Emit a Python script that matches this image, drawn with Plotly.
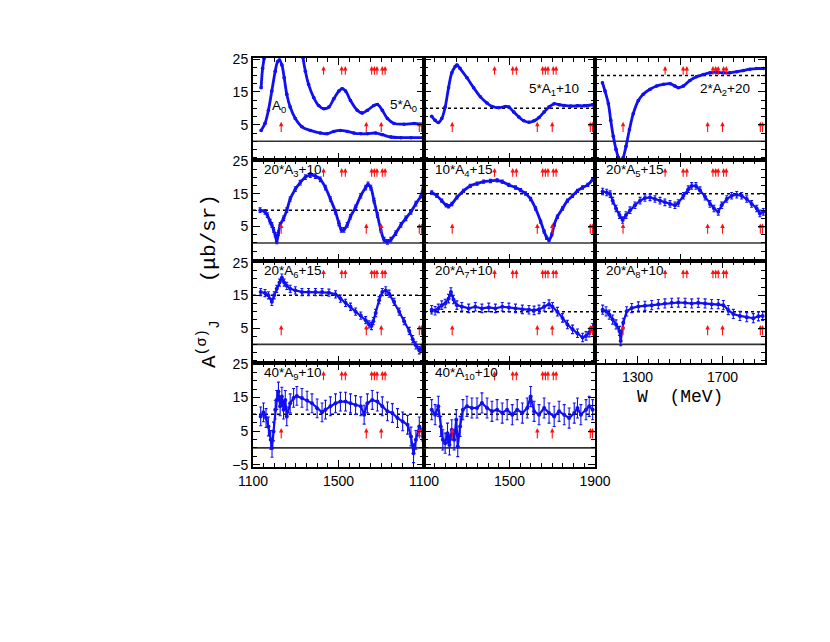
import plotly.graph_objects as go

# ---------------- data ----------------
W_A0 = [1138, 1156, 1172, 1188, 1204, 1215, 1224, 1235, 1246, 1258, 1274, 1298, 1329, 1368, 1415, 1447,
        1478, 1509, 1541, 1572, 1604, 1635, 1674, 1705, 1745, 1792, 1839, 1894]
V_A0 = [3.3, 5.4, 9.4, 15.3, 21.3, 24.2, 24.7, 23.2, 19.3, 14.3, 10.4, 6.9, 4.4, 3.3, 2.5, 2.3,
        3.0, 3.3, 3.0, 2.5, 2.3, 2.3, 2.5, 2.0, 1.3, 1.1, 1.1, 1.1]

W_5A0 = [1138, 1145, 1152, 1160, None, 1325, 1334, 1345, 1360, 1384, 1407, 1431, 1455, 1478, 1502, 1517, 1533,
         1556, 1588, 1611, 1635, 1666, 1682, 1705, 1729, 1760, 1807, 1854, 1886]
V_5A0 = [16.3, 22.2, 25.2, 32.0, None, 32.0, 25.4, 21.3, 17.3, 13.3, 10.9, 9.9, 10.4, 12.9, 15.3, 16.0, 15.3,
         12.4, 9.4, 8.6, 9.4, 10.9, 11.2, 9.4, 6.9, 5.4, 5.2, 5.4, 5.2]

W_A1 = [1136, 1152, 1167, 1183, 1199, 1215, 1230, 1246, 1254, 1269, 1301, 1332, 1364, 1395, 1418, 1450, 1481,
        1497, 1520, 1544, 1567, 1591, 1615, 1638, 1662, 1685, 1709, 1732, 1756, 1787, 1818, 1850, 1889]
V_A1 = [7.6, 6.4, 5.7, 6.9, 10.4, 16.3, 20.8, 22.7, 23.2, 22.1, 19.3, 16.3, 13.5, 11.6, 10.6, 10.2, 10.6,
        10.4, 8.9, 7.4, 6.2, 5.8, 6.2, 7.2, 8.9, 10.4, 11.4, 11.1, 10.9, 10.7, 10.8, 10.8, 11.1]

W_A2 = [1135, 1147, 1163, 1174, 1186, 1199, 1210, 1222, 1233, 1246, 1262, 1280, 1304, 1327, 1359, 1390, 1422,
        1453, 1476, 1492, 1516, 1547, 1578, 1610, 1641, 1673, 1704, 1735, 1767, 1798, 1829, 1861, 1892]
V_A2 = [17.8, 15.3, 11.4, 6.4, 1.5, -2.5, -4.9, -6.5, -4.9, -1.5, 3.5, 8.4, 12.4, 14.3, 15.8, 16.8, 17.3,
        17.5, 16.8, 16.3, 16.8, 18.5, 19.6, 20.3, 20.8, 21.0, 20.8, 20.8, 21.1, 21.5, 21.9, 22.1, 22.1]

W_A3 = [1133, 1156, 1167, 1180, 1188, 1196, 1204, 1211, 1219, 1227, 1243, 1258, 1274, 1298, 1321, 1345, 1368,
        1392, 1415, 1439, 1462, 1486, 1502, 1513, 1525, 1541, 1556, 1580, 1604, 1627, 1638, 1651, 1666, 1682,
        1698, 1713, 1729, 1745, 1768, 1792, 1815, 1839, 1862, 1886, 1898]
V_A3 = [10.0, 9.5, 8.5, 6.5, 5.5, 4.0, 2.5, 0.5, 3.0, 5.5, 7.5, 10.0, 13.4, 16.4, 18.4, 20.1, 20.7,
        20.4, 19.4, 16.9, 13.4, 9.5, 6.0, 4.0, 4.0, 5.5, 8.0, 10.9, 14.4, 16.9, 17.9, 16.9, 12.9, 8.5,
        4.0, 1.0, 0.3, 1.0, 3.0, 5.5, 7.5, 9.5, 12.0, 14.4, 17.9]

W_A4 = [1136, 1160, 1183, 1204, 1215, 1230, 1254, 1285, 1316, 1348, 1379, 1411, 1442, 1466, 1497, 1528, 1552,
        1575, 1599, 1622, 1646, 1662, 1674, 1685, 1698, 1709, 1724, 1748, 1771, 1795, 1818, 1842, 1866, 1889]
V_A4 = [15.4, 14.4, 12.9, 11.5, 11.2, 11.9, 13.9, 15.9, 17.4, 18.1, 18.7, 18.9, 19.1, 18.7, 17.7, 16.9, 16.1,
        15.1, 13.4, 10.5, 6.5, 3.5, 1.6, 0.9, 2.6, 5.5, 8.0, 10.5, 12.9, 14.4, 15.9, 16.9, 17.7, 19.4]

W_A5 = [1136, 1155, 1171, 1183, 1199, 1215, 1230, 1246, 1265, 1288, 1312, 1335, 1359, 1382, 1406, 1429, 1453,
        1476, 1492, 1516, 1539, 1555, 1575, 1594, 1618, 1641, 1660, 1680, 1696, 1720, 1743, 1767, 1790, 1814,
        1837, 1861, 1876, 1892]
V_A5 = [15.7, 15.4, 14.9, 12.9, 10.5, 8.5, 7.0, 8.5, 10.0, 11.5, 12.9, 13.7, 13.9, 13.4, 12.9, 12.4, 11.9,
        11.5, 12.2, 14.4, 16.4, 17.4, 17.4, 16.1, 14.1, 11.9, 10.5, 9.5, 11.5, 13.4, 14.4, 14.7, 14.4, 13.4,
        11.9, 10.5, 9.0, 9.5]

W_A6 = [1136, 1156, 1172, 1188, 1199, 1211, 1224, 1235, 1246, 1258, 1274, 1298, 1329, 1360, 1392, 1423, 1455,
        1486, 1509, 1533, 1556, 1580, 1604, 1627, 1643, 1654, 1663, 1674, 1690, 1705, 1721, 1737, 1760, 1784,
        1807, 1831, 1847, 1862, 1878, 1889, 1898]
V_A6 = [16.0, 15.7, 15.0, 13.0, 15.0, 17.0, 18.9, 20.4, 18.9, 17.9, 17.0, 16.5, 16.0, 16.0, 16.0, 16.0, 15.8,
        15.3, 14.0, 12.7, 11.5, 10.0, 8.8, 7.4, 6.1, 5.6, 7.1, 9.6, 13.5, 16.0, 16.5, 15.5, 13.0, 10.0,
        7.1, 4.1, 1.6, -0.3, -1.8, -1.3, 1.6]

W_A7 = [1136, 1152, 1167, 1183, 1199, 1215, 1226, 1238, 1254, 1277, 1309, 1340, 1371, 1403, 1434, 1466, 1497,
        1528, 1560, 1591, 1615, 1638, 1662, 1685, 1701, 1724, 1748, 1771, 1795, 1818, 1842, 1858, 1873, 1889]
V_A7 = [10.6, 10.3, 11.0, 12.0, 12.5, 14.0, 16.0, 13.7, 12.0, 11.5, 11.0, 11.5, 11.0, 11.3, 11.0, 11.5, 11.3,
        11.0, 10.7, 10.6, 10.4, 10.7, 11.5, 12.3, 11.5, 10.0, 8.1, 6.1, 4.6, 3.4, 2.1, 2.6, 3.6, 5.1]

W_A8 = [1136, 1152, 1167, 1183, 1199, 1215, 1221, 1233, 1249, 1273, 1304, 1335, 1367, 1398, 1429, 1461, 1492,
        1524, 1555, 1586, 1618, 1649, 1680, 1704, 1727, 1751, 1782, 1814, 1845, 1869, 1889]
V_A8 = [10.6, 10.1, 9.1, 7.6, 6.1, 4.1, 1.0, 6.6, 10.1, 11.1, 11.6, 11.8, 12.0, 12.3, 12.5, 12.7, 12.8,
        12.7, 12.5, 12.7, 12.5, 12.3, 12.3, 12.0, 10.5, 9.3, 8.7, 8.3, 8.0, 8.6, 8.7]

W_A9 = [1136, 1149, 1161, 1172, 1183, 1189, 1196, 1204, 1211, 1219, 1227, 1235, 1243, 1251, 1258, 1274, 1290,
        1305, 1329, 1353, 1376, 1400, 1423, 1439, 1462, 1486, 1509, 1533, 1556, 1580, 1604, 1620, 1635, 1658,
        1682, 1705, 1729, 1752, 1776, 1800, 1823, 1839, 1851, 1862, 1878, 1894]
V_A9 = [9.4, 10.6, 8.9, 6.4, 2.4, 0.0, 4.9, 11.4, 14.3, 16.8, 12.4, 15.3, 11.4, 14.3, 9.4, 13.3, 14.9,
        15.5, 14.9, 14.1, 13.3, 11.8, 10.6, 11.4, 12.4, 13.3, 13.8, 13.8, 13.3, 12.8, 12.4, 9.9, 13.3, 14.3,
        13.8, 12.4, 10.9, 10.4, 8.9, 7.9, 6.9, 3.4, -1.6, 2.4, 6.4, 4.9]

W_A10 = [1136, 1152, 1167, 1178, 1188, 1199, 1210, 1219, 1230, 1241, 1251, 1258, 1269, 1282, 1301, 1324, 1348,
         1371, 1395, 1418, 1442, 1466, 1489, 1513, 1536, 1560, 1583, 1599, 1615, 1638, 1662, 1685, 1709, 1732,
         1756, 1779, 1803, 1818, 1834, 1858, 1873, 1889]
V_A10 = [11.4, 9.9, 12.4, 6.4, 2.4, 1.4, 4.4, 0.9, 5.4, 2.4, 8.4, 0.4, 6.4, 11.4, 12.4, 11.9, 11.9,
         13.4, 11.9, 10.9, 11.4, 10.4, 11.4, 9.9, 11.4, 10.4, 11.9, 15.3, 10.9, 9.9, 11.9, 10.4, 9.4, 10.9,
         9.9, 8.9, 10.4, 11.9, 9.9, 11.4, 12.4, 11.4]

# typical error-bar half-size per panel (A0..A10)
ERRS = [0.2, 0.2, 0.2, 0.7, 0.5, 1.0, 1.1, 1.3, 1.4, 2.8, 3.0]

PANEL_LABELS = ["5*A<sub>0</sub>", "5*A<sub>1</sub>+10", "2*A<sub>2</sub>+20",
                "20*A<sub>3</sub>+10", "10*A<sub>4</sub>+15", "20*A<sub>5</sub>+15",
                "20*A<sub>6</sub>+15", "20*A<sub>7</sub>+10", "20*A<sub>8</sub>+10",
                "40*A<sub>9</sub>+10", "40*A<sub>10</sub>+10"]
OFFSETS = [None, 10, 20, 10, 15, 15, 15, 10, 10, 10, 10]

# resonance positions (MeV): N* (upper arrows) and Delta (lower arrows)
N_STAR = [1430, 1515, 1532, 1655, 1668, 1680, 1705, 1718]
DELTA = [1232, 1630, 1700, 1878, 1888]

X_TICKS_BOTTOM = [1100, 1500, 1900]
X_TICKS_RIGHT = [1300, 1700]
Y_TICKS = [5, 15, 25]
Y_TICKS_LAST = [-5, 5, 15, 25]

SERIES = [
    [(W_A0, V_A0), (W_5A0, V_5A0)],
    [(W_A1, V_A1)], [(W_A2, V_A2)],
    [(W_A3, V_A3)], [(W_A4, V_A4)], [(W_A5, V_A5)],
    [(W_A6, V_A6)], [(W_A7, V_A7)], [(W_A8, V_A8)],
    [(W_A9, V_A9)], [(W_A10, V_A10)],
]

# ---------------- layout geometry (screen pixels) ----------------
PAGE_MARGIN = 8                       # default body margin of the html page
FW, FH = 830 - 2 * PAGE_MARGIN, 642 - 2 * PAGE_MARGIN
COL_EDGES = [253, 424, 595, 765]
ROW_EDGES = [57.7, 159.7, 261.3, 362.7, 466.7]
BLUE = "#1010f0"
RED = "#ff1010"


def px_x(p):
    return (p - PAGE_MARGIN) / FW


def px_y(p):
    return 1 - (p - PAGE_MARGIN) / FH


fig = go.Figure()
layout = dict(width=FW, height=FH, autosize=False,
              margin=dict(l=0, r=0, t=0, b=0, pad=0, autoexpand=False),
              paper_bgcolor="white", plot_bgcolor="white", showlegend=False)
annotations = []
shapes = []
lab_font = dict(family="Liberation Sans, Arial", size=13.5, color="black")

for i in range(11):
    r, c = divmod(i, 3)
    n = "" if i == 0 else str(i + 1)
    xa, ya = "x" + n, "y" + n
    xdom = [px_x(COL_EDGES[c]), px_x(COL_EDGES[c + 1])]
    ydom = [px_y(ROW_EDGES[r + 1]), px_y(ROW_EDGES[r])]

    if r == 3:
        xt = X_TICKS_BOTTOM[:2] if c == 0 else X_TICKS_BOTTOM
        xshow = True
    elif r == 2 and c == 2:
        xt = X_TICKS_RIGHT
        xshow = True
    else:
        xt = X_TICKS_BOTTOM
        xshow = False
    common = dict(showline=True, linecolor="black", linewidth=2, mirror="allticks",
                  ticks="inside", ticklen=7, tickwidth=1.3, tickcolor="black",
                  showgrid=False, zeroline=False, automargin=False,
                  tickfont=dict(family="Liberation Sans, Arial", size=14, color="black"))
    layout["xaxis" + n] = dict(domain=xdom, range=[1100, 1900], anchor=ya,
                               tickmode="array", tickvals=xt, showticklabels=xshow,
                               minor=dict(tickmode="linear", tick0=1100, dtick=50, ticklen=4,
                                          ticks="inside", tickcolor="black", tickwidth=1.2),
                               **common)
    layout["yaxis" + n] = dict(domain=ydom, range=[-5.6, 25.4], anchor=xa,
                               tickmode="array", tickvals=(Y_TICKS_LAST if r == 3 else Y_TICKS),
                               showticklabels=(c == 0),
                               minor=dict(tickmode="linear", tick0=0, dtick=2.5, ticklen=4,
                                          ticks="inside", tickcolor="black", tickwidth=1.2),
                               **common)

    # zero line and offset line
    shapes.append(dict(type="line", xref=xa, yref=ya, x0=1100, x1=1900, y0=0, y1=0,
                       line=dict(color="#333333", width=1.6), layer="below"))
    if OFFSETS[i] is not None:
        shapes.append(dict(type="line", xref=xa, yref=ya, x0=1100, x1=1900,
                           y0=OFFSETS[i], y1=OFFSETS[i],
                           line=dict(color="black", width=1.5, dash="dot"), layer="below"))

    smooth = i <= 4
    for (wx, vy) in SERIES[i]:
        fig.add_trace(go.Scatter(
            x=wx, y=vy, xaxis=xa, yaxis=ya, mode="lines+markers",
            line=dict(color=BLUE, width=(2.8 if smooth else 2.2),
                      shape=("spline" if smooth else "linear")),
            marker=dict(color=BLUE, size=(3.5 if smooth else 4)),
            error_y=dict(type="constant", value=ERRS[i], color=BLUE, thickness=1.1, width=1.5),
            connectgaps=False, hoverinfo="skip", cliponaxis=True))

    # resonance arrows: shafts + arrow heads
    for pos, y_lo, y_hi in ((N_STAR, 20.2, 22.9), (DELTA, 2.8, 5.9)):
        sx, sy = [], []
        for w in pos:
            sx += [w, w, None]
            sy += [y_lo, y_hi - 0.5, None]
        fig.add_trace(go.Scatter(x=sx, y=sy, xaxis=xa, yaxis=ya, mode="lines",
                                 line=dict(color=RED, width=1.1), hoverinfo="skip"))
        fig.add_trace(go.Scatter(x=pos, y=[y_hi] * len(pos), xaxis=xa, yaxis=ya, mode="markers",
                                 marker=dict(symbol="arrow-up", size=4.5, color=RED,
                                             line=dict(width=0)),
                                 hoverinfo="skip", cliponaxis=False))

    # panel label
    if i == 0:
        annotations.append(dict(x=1806, y=10.8, xref=xa, yref=ya, text=PANEL_LABELS[0],
                                showarrow=False, font=lab_font))
        annotations.append(dict(x=1222, y=10.6, xref=xa, yref=ya, text="A<sub>0</sub>",
                                showarrow=False, font=lab_font))
    elif i in (1, 2):
        annotations.append(dict(x=1710, y=15.6, xref=xa, yref=ya, text=PANEL_LABELS[i],
                                showarrow=False, font=lab_font))
    else:
        annotations.append(dict(x=1143, y=22.2, xref=xa, yref=ya, text=PANEL_LABELS[i],
                                showarrow=False, xanchor="left", font=lab_font))

# axis titles
annotations.append(dict(x=px_x(208), y=px_y(281), xref="paper", yref="paper",
                        xanchor="center", yanchor="middle",
                        text="A<sup>(σ)</sup><sub>J</sub>   (μb/sr)", textangle=-90, showarrow=False,
                        font=dict(family="Liberation Mono, Courier New", size=21, color="black")))
annotations.append(dict(x=px_x(680), y=px_y(397), xref="paper", yref="paper",
                        xanchor="center", yanchor="middle",
                        text="W  (MeV)", showarrow=False,
                        font=dict(family="Liberation Mono, Courier New", size=18, color="black")))

layout["annotations"] = annotations
layout["shapes"] = shapes
fig.update_layout(**layout)
fig.write_html("out.html")
